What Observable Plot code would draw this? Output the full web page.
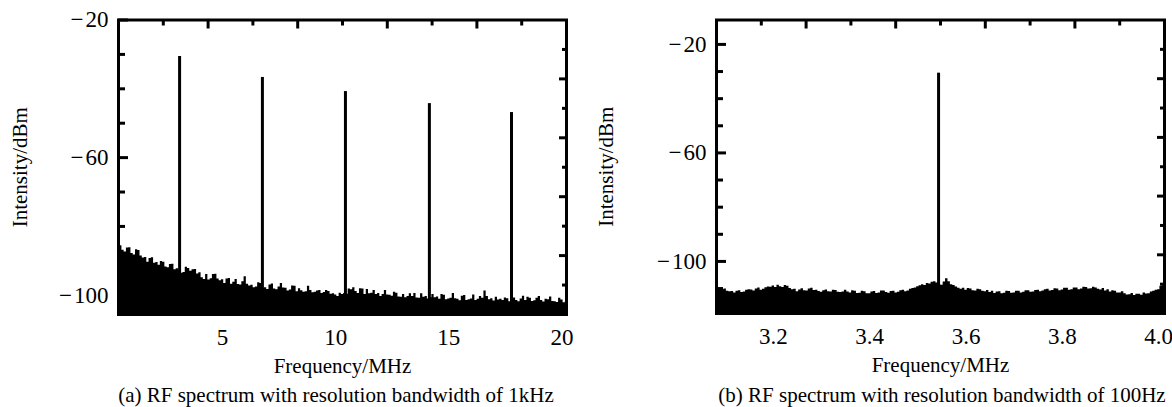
<!DOCTYPE html>
<html><head><meta charset="utf-8">
<script src="https://cdn.jsdelivr.net/npm/d3@7"></script>
<script src="https://cdn.jsdelivr.net/npm/@observablehq/plot@0.6"></script>
<style>
body{margin:0;background:#fff;}
#wrap{position:relative;width:1172px;height:407px;font-family:"Liberation Serif","Times New Roman",serif;color:#000;overflow:hidden;}
.panel{position:absolute;top:0;}
.cap{position:absolute;top:383px;font-size:21px;white-space:nowrap;transform:translateX(-50%);}
</style></head><body>
<div id="wrap">
 <div id="pa" class="panel" style="left:0"></div>
 <div id="pb" class="panel" style="left:586px"></div>
 <div class="cap" style="left:336px">(a) RF spectrum with resolution bandwidth of 1kHz</div>
 <div class="cap" style="left:942px">(b) RF spectrum with resolution bandwidth of 100Hz</div>
</div>
<script>
// ---------- Panel (a): 1 kHz RBW ----------
const xDomainA = [0.4, 20.2];
const yDomainA = [-105.6, -20];
const xTicksA = [5, 10, 15, 20];
const yMajorA = [-20, -60, -100];
const yMinorA = [-30, -40, -50, -70, -80, -90];
const peakFreqA = [3.10, 6.76, 10.43, 14.14, 17.77];
const peakLevelA = [-30.6, -36.7, -40.8, -44.3, -46.9];
const noiseStartA = 0.4, noiseStepA = 0.1;
const noiseLevelA = [
 -85.0,-85.6,-86.9,-87.4,-86.3,-86.2,-87.9,-88.3,-86.8,-87.0,
 -88.6,-89.2,-89.0,-90.4,-89.3,-89.1,-90.7,-90.5,-91.3,-90.2,
 -90.4,-91.8,-92.0,-91.1,-91.0,-92.6,-92.3,-92.9,-93.6,-93.4,
 -91.9,-92.2,-93.0,-92.6,-92.5,-93.8,-93.5,-94.9,-95.4,-94.0,
 -95.6,-95.2,-94.0,-93.9,-95.3,-95.8,-95.5,-96.6,-95.3,-95.1,
 -96.8,-96.2,-95.4,-96.9,-97.0,-96.1,-94.6,-96.8,-97.3,-97.1,
 -97.8,-97.6,-96.4,-96.6,-98.1,-97.8,-98.3,-97.0,-96.7,-98.2,
 -98.4,-97.6,-96.6,-97.9,-98.0,-98.8,-98.5,-97.3,-97.4,-99.0,
 -98.1,-98.7,-99.1,-99.0,-97.4,-98.6,-99.3,-99.1,-98.8,-98.6,
 -99.5,-99.2,-98.6,-98.9,-99.7,-99.6,-99.9,-100.4,-99.4,-99.8,
 -99.5,-99.7,-98.2,-98.4,-97.8,-98.9,-99.5,-98.1,-98.2,-99.8,
 -98.3,-99.6,-99.4,-98.6,-99.8,-99.5,-100.4,-99.8,-98.6,-99.9,
 -100.0,-100.3,-99.1,-99.4,-100.5,-100.6,-99.8,-100.7,-100.4,-99.6,
 -100.4,-99.5,-100.8,-100.9,-99.6,-100.6,-100.4,-101.1,-100.7,-99.8,
 -100.7,-100.5,-101.2,-99.8,-100.0,-101.3,-101.1,-100.9,-99.5,-101.0,
 -101.2,-101.6,-100.3,-100.1,-101.5,-101.3,-101.1,-99.9,-101.5,-101.2,
 -100.4,-100.9,-98.8,-100.4,-101.3,-101.0,-101.7,-100.6,-101.4,-101.2,
 -101.5,-100.8,-101.0,-101.9,-100.6,-100.8,-101.5,-101.9,-101.1,-100.3,
 -101.5,-100.6,-100.9,-101.8,-101.6,-100.9,-100.4,-101.5,-102.0,-101.2,
 -101.3,-100.5,-101.8,-101.9,-102.1,-100.9,-101.4,-102.2,-101.8
];

// ---------- Panel (b): 100 Hz RBW ----------
const xDomainB = [3.082, 4.012];
const yDomainB = [-119.2, -11];
const xTicksB = [3.2, 3.4, 3.6, 3.8, 4.0];
const yMajorB = [-20, -60, -100];
const yMinorB = [-30, -40, -50, -70, -80, -90, -110];
const peakFreqB = [3.543];
const peakLevelB = [-30.6];
const noiseStartB = 3.08, noiseStepB = 0.005;
const noiseLevelB = [
 -109.4,-110.3,-110.6,-110.4,-110.2,-111.0,-111.2,-111.1,-111.6,-111.0,
 -110.8,-111.5,-111.3,-110.6,-110.4,-110.5,-110.9,-110.2,-109.8,-110.6,
 -110.3,-109.7,-109.4,-109.5,-109.1,-109.6,-108.8,-109.3,-109.6,-108.9,
 -109.2,-110.0,-110.4,-110.3,-111.2,-110.5,-110.1,-110.8,-110.9,-110.2,
 -109.9,-110.7,-110.6,-111.1,-111.4,-110.8,-110.5,-111.2,-111.3,-110.6,
 -110.7,-111.4,-111.5,-111.3,-110.6,-111.3,-111.6,-110.8,-111.0,-111.8,
 -111.7,-111.0,-111.2,-111.9,-111.9,-111.3,-111.1,-111.8,-111.6,-110.9,
 -110.9,-111.5,-111.7,-111.1,-111.0,-111.6,-111.4,-110.8,-110.6,-111.2,
 -110.9,-110.3,-110.0,-109.8,-109.3,-109.0,-108.6,-108.9,-108.1,-108.3,
 -107.7,-107.5,-108.0,-108.5,-108.8,-107.6,-106.4,-107.5,-108.6,-108.9,
 -109.4,-109.9,-110.3,-109.9,-110.6,-110.0,-110.2,-110.8,-110.9,-110.3,
 -110.4,-111.0,-111.2,-110.7,-111.5,-111.0,-111.8,-111.3,-111.2,-111.9,
 -111.7,-111.0,-111.1,-111.7,-111.6,-111.0,-111.0,-111.6,-111.4,-110.8,
 -110.8,-111.4,-111.3,-110.7,-110.6,-111.2,-110.9,-110.4,-110.3,-110.9,
 -110.7,-110.1,-110.2,-110.8,-110.5,-109.9,-109.9,-110.6,-110.4,-109.8,
 -109.8,-110.4,-110.2,-109.5,-109.6,-110.2,-110.1,-109.5,-109.8,-110.3,
 -110.5,-110.0,-110.9,-110.4,-111.3,-110.8,-111.0,-111.6,-111.6,-111.2,
 -111.9,-112.4,-112.3,-111.8,-112.6,-112.1,-112.1,-112.5,-111.6,-112.0,
 -111.9,-111.3,-111.0,-110.6,-110.4,-109.2,-108.3
];

const toSeries = (start, step, levels) => levels.map((v, i) => ({f: start + i * step, v}));
const toPeaks = (fs, vs) => fs.map((f, i) => ({f, v: vs[i]}));
const fmtY = d => (d < 0 ? "\u2212\u200a" : "") + Math.abs(d);
// ten equal divisions of the frame edge (decorative top/right ticks)
function divisions(domain, even) {
  return d3.range(1, 10).filter(i => (i % 2 === 0) === even)
    .map(i => domain[0] + i * (domain[1] - domain[0]) / 10);
}

function panel({xDomain, yDomain, xTicks, xFormat, yMajor, yMinor, noise, peaks, marginLeft, marginRight, frameBottom}) {
  const H = 380;
  const tickFs = 23, titleFs = 21;
  return Plot.plot({
    width: 586, height: H,
    marginLeft, marginRight, marginTop: 19.5, marginBottom: H - frameBottom,
    style: {fontFamily: "'Liberation Serif','Times New Roman',serif", fontSize: "21px", color: "#000", background: "#fff", overflow: "visible"},
    x: {domain: xDomain},
    y: {domain: yDomain},
    marks: [
      Plot.areaY(noise, {x: "f", y1: yDomain[0], y2: "v", fill: "#000", curve: "step", clip: true}),
      Plot.ruleX(peaks, {x: "f", y1: yDomain[0], y2: "v", stroke: "#000", strokeWidth: 3}),
      Plot.axisX(xTicks, {anchor: "bottom", tickSize: 0, tickPadding: 14, tickFormat: xFormat, fontSize: tickFs, label: null}),
      Plot.axisX([], {anchor: "bottom", tickSize: 0, fontSize: titleFs,
        label: "Frequency/MHz", labelAnchor: "center", labelOffset: 58, labelArrow: "none"}),
      Plot.axisY(yMajor, {anchor: "left", tickSize: -10, tickPadding: 20, strokeWidth: 3, tickFormat: fmtY, fontSize: tickFs, label: null}),
      Plot.axisY([], {anchor: "left", tickSize: 0, fontSize: titleFs,
        label: "Intensity/dBm", labelAnchor: "center", labelOffset: marginLeft - 12, labelArrow: "none"}),
      Plot.axisY(yMinor, {anchor: "left", tickSize: -7, strokeWidth: 3, fill: "none"}),
      Plot.axisX(divisions(xDomain, true), {anchor: "top", tickSize: -8, strokeWidth: 3, fill: "none"}),
      Plot.axisX(divisions(xDomain, false), {anchor: "top", tickSize: -5, strokeWidth: 3, fill: "none"}),
      Plot.axisY(divisions(yDomain, true), {anchor: "right", tickSize: -8, strokeWidth: 3, fill: "none"}),
      Plot.axisY(divisions(yDomain, false), {anchor: "right", tickSize: -5, strokeWidth: 3, fill: "none"}),
      Plot.frame({stroke: "#000", strokeWidth: 3})
    ]
  });
}

document.getElementById("pa").append(panel({
  xDomain: xDomainA, yDomain: yDomainA, xTicks: xTicksA, xFormat: d3.format("d"),
  yMajor: yMajorA, yMinor: yMinorA,
  noise: toSeries(noiseStartA, noiseStepA, noiseLevelA), peaks: toPeaks(peakFreqA, peakLevelA),
  marginLeft: 118, marginRight: 20, frameBottom: 314
}));
document.getElementById("pb").append(panel({
  xDomain: xDomainB, yDomain: yDomainB, xTicks: xTicksB, xFormat: d3.format(".1f"),
  yMajor: yMajorB, yMinor: yMinorB,
  noise: toSeries(noiseStartB, noiseStepB, noiseLevelB), peaks: toPeaks(peakFreqB, peakLevelB),
  marginLeft: 130, marginRight: 8, frameBottom: 313
}));
</script>
</body></html>
